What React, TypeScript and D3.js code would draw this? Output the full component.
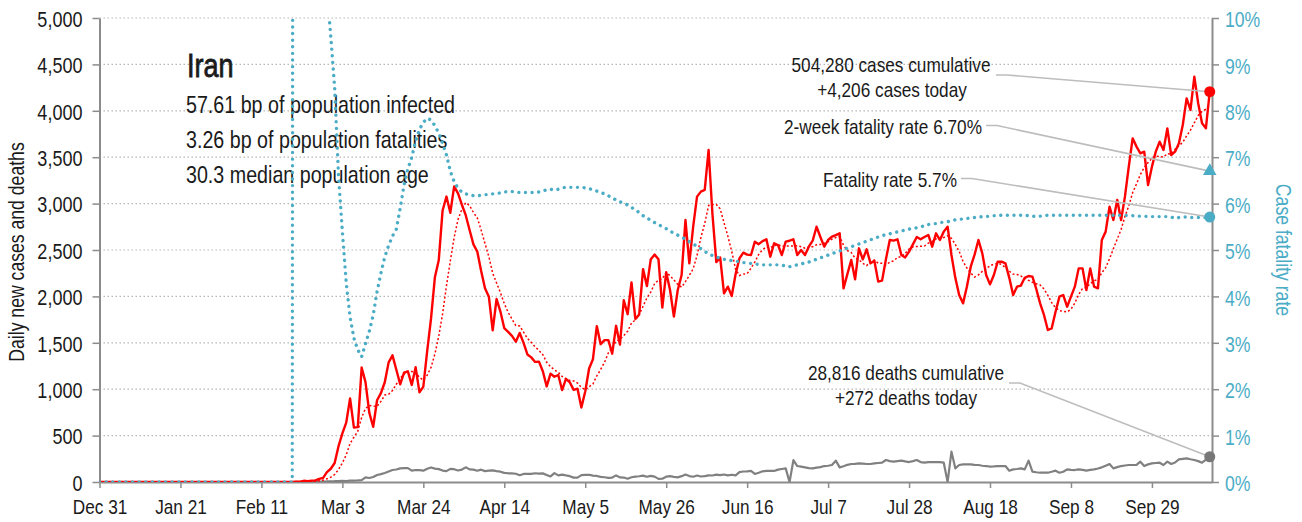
import { useEffect, useRef } from 'react';
import * as d3 from 'd3';

// first day of the series below; before it every series is zero
const seriesStart = '2020-02-19';

// daily new cases, Feb 19 .. Oct 14 (one value per day)
const dailyCases = [
  0, 2, 3, 13, 10, 15, 18, 34, 44, 106, // Feb 19
  143, 205, 385, 523, 640, 900, 586, 591, 1234, 1076, // Feb 29
  743, 595, 881, 958, 1075, 1289, 1365, 1209, 1053, 1178, // Mar 10
  1192, 1046, 1237, 966, 1028, 1411, 1762, 2206, 2389, 2926, // Mar 20
  3076, 2901, 3186, 3110, 2988, 2875, 2715, 2560, 2483, 2274, // Mar 30
  2089, 1997, 1634, 1972, 1837, 1657, 1617, 1574, 1512, 1606, // Apr 9
  1499, 1374, 1343, 1294, 1297, 1194, 1030, 1168, 1134, 1153, // Apr 19
  991, 1112, 1073, 993, 1006, 802, 976, 1223, 1323, 1680, // Apr 29
  1485, 1529, 1529, 1383, 1683, 1481, 1958, 1808, 2150, 1757, // May 9
  1806, 2294, 2111, 2400, 2450, 2400, 1880, 2260, 2069, 1782, // May 19
  2069, 2231, 2823, 2356, 2751, 3075, 3129, 3147, 3578, 2886, // May 29
  2369, 2420, 2033, 2105, 2004, 2238, 2410, 2471, 2450, 2446, // Jun 8
  2590, 2563, 2596, 2615, 2428, 2572, 2554, 2446, 2590, 2600, // Jun 18
  2615, 2446, 2500, 2446, 2536, 2600, 2751, 2640, 2536, 2608, // Jun 28
  2644, 2660, 2680, 2087, 2240, 2392, 2184, 2518, 2399, 2507, // Jul 8
  2356, 2385, 2159, 2170, 2400, 2608, 2601, 2615, 2446, 2420, // Jul 18
  2482, 2560, 2640, 2615, 2640, 2662, 2536, 2680, 2608, 2698, // Jul 28
  2751, 2446, 2200, 2015, 1925, 2105, 2320, 2450, 2608, 2464, // Aug 7
  2231, 2130, 2231, 2374, 2374, 2356, 2200, 2015, 2105, 2116, // Aug 17
  2200, 2220, 2213, 2080, 1925, 1800, 1638, 1656, 1835, 1997, // Aug 27
  2015, 1889, 1997, 2105, 2302, 2302, 2069, 2302, 2105, 2087, // Sep 6
  2608, 2698, 2967, 2823, 3039, 2823, 3075, 3400, 3703, 3614, // Sep 16
  3542, 3560, 3200, 3398, 3560, 3667, 3578, 3811, 3524, 3560, // Sep 26
  3650, 3847, 4134, 4009, 4368, 4081, 3865, 3811, 4206, // Oct 6
];

// daily deaths, same days
const dailyDeaths = [
  0, 2, 0, 2, 1, 3, 4, 4, 3, 7,
  8, 9, 11, 12, 11, 15, 15, 17, 21, 49,
  43, 54, 75, 85, 97, 113, 129, 135, 147, 149,
  149, 123, 129, 127, 122, 143, 157, 144, 139, 123,
  117, 141, 138, 124, 134, 158, 136, 133, 121, 133,
  117, 122, 125, 117, 111, 98, 94, 92, 89, 73,
  87, 88, 88, 94, 90, 93, 76, 60, 96, 71,
  80, 71, 63, 47, 47, 74, 76, 78, 68, 65,
  55, 51, 45, 48, 71, 50, 48, 35, 51, 58,
  62, 69, 56, 66, 58, 34, 35, 57, 63, 56,
  50, 63, 81, 64, 57, 70, 59, 63, 72, 70,
  80, 75, 81, 71, 78, 71, 107, 113, 115, 120,
  87, 100, 115, 119, 121, 119, 133, 140, 147, 0,
  235, 172, 165, 158, 150, 147, 155, 160, 172, 175,
  183, 230, 158, 170, 185, 194, 195, 201, 198, 194,
  194, 200, 205, 208, 237, 225, 219, 225, 230, 222,
  215, 225, 237, 215, 208, 215, 215, 215, 215, 208,
  0, 327, 147, 183, 190, 190, 190, 185, 183, 175,
  172, 165, 168, 172, 172, 172, 122, 136, 140, 147,
  136, 230, 111, 105, 100, 100, 100, 110, 122, 100,
  110, 136, 130, 129, 136, 130, 122, 130, 136, 145,
  158, 175, 194, 147, 160, 172, 178, 183, 183, 185,
  219, 172, 190, 201, 205, 208, 183, 219, 194, 210,
  244, 250, 255, 245, 237, 225, 208, 240, 272,
];

// case fatality rate in percent, same days
const fatalityRate = [
  0, 100, 40, 22.2, 17.9, 18.6, 19.7, 16.8, 13.7, 10.6,
  9.6, 8.5, 6.6, 5.4, 4.3, 3.55, 3.1, 2.85, 2.7, 2.98,
  3.25, 3.6, 4.1, 4.5, 4.85, 5.1, 5.3, 5.45, 5.9, 6.4,
  6.75, 7.0, 7.35, 7.6, 7.75, 7.84, 7.8, 7.68, 7.52, 7.3,
  7.05, 6.7, 6.47, 6.33, 6.25, 6.21, 6.19, 6.17, 6.17, 6.18,
  6.19, 6.2, 6.21, 6.22, 6.23, 6.25, 6.26, 6.26, 6.25, 6.24,
  6.24, 6.24, 6.24, 6.24, 6.25, 6.27, 6.3, 6.31, 6.29, 6.31,
  6.34, 6.35, 6.35, 6.35, 6.35, 6.35, 6.34, 6.32, 6.3, 6.27,
  6.24, 6.21, 6.17, 6.12, 6.08, 6.04, 6.01, 5.97, 5.92, 5.86,
  5.81, 5.74, 5.69, 5.64, 5.59, 5.55, 5.5, 5.46, 5.41, 5.36,
  5.32, 5.28, 5.23, 5.18, 5.13, 5.08, 5.03, 4.97, 4.92, 4.88,
  4.85, 4.82, 4.8, 4.79, 4.77, 4.76, 4.75, 4.73, 4.72, 4.71,
  4.7, 4.69, 4.68, 4.68, 4.68, 4.68, 4.68, 4.67, 4.66, 4.64,
  4.66, 4.68, 4.7, 4.72, 4.74, 4.77, 4.8, 4.83, 4.86, 4.89,
  4.92, 4.95, 4.98, 5.01, 5.04, 5.07, 5.1, 5.13, 5.16, 5.19,
  5.22, 5.25, 5.28, 5.31, 5.33, 5.35, 5.37, 5.39, 5.41, 5.43,
  5.45, 5.46, 5.48, 5.5, 5.52, 5.55, 5.56, 5.57, 5.59, 5.6,
  5.61, 5.63, 5.65, 5.66, 5.67, 5.68, 5.69, 5.7, 5.71, 5.72,
  5.72, 5.73, 5.74, 5.74, 5.75, 5.75, 5.75, 5.75, 5.75, 5.75,
  5.75, 5.74, 5.73, 5.72, 5.73, 5.74, 5.75, 5.75, 5.75, 5.75,
  5.75, 5.75, 5.75, 5.75, 5.75, 5.75, 5.75, 5.75, 5.75, 5.75,
  5.75, 5.75, 5.75, 5.75, 5.75, 5.75, 5.75, 5.74, 5.74, 5.73,
  5.73, 5.73, 5.72, 5.72, 5.72, 5.72, 5.72, 5.72, 5.71, 5.68,
  5.7, 5.71, 5.71, 5.7, 5.7, 5.7, 5.7, 5.7, 5.71,
];

const twoWeekRate = 6.7;

const caseTicks = [0, 500, 1000, 1500, 2000, 2500, 3000, 3500, 4000, 4500, 5000];
const rateTicks = [0, 1, 2, 3, 4, 5, 6, 7, 8, 9, 10];
const dateTicks = [
  '2019-12-31', '2020-01-21', '2020-02-11', '2020-03-03', '2020-03-24',
  '2020-04-14', '2020-05-05', '2020-05-26', '2020-06-16', '2020-07-07',
  '2020-07-28', '2020-08-18', '2020-09-08', '2020-09-29',
];

const title = 'Iran';
const facts = [
  '57.61 bp of population infected',
  '3.26 bp of population fatalities',
  '30.3 median population age',
];
const casesNote = ['504,280 cases cumulative', '+4,206 cases today'];
const twoWeekNote = '2-week fatality rate 6.70%';
const rateNote = 'Fatality rate 5.7%';
const deathsNote = ['28,816 deaths cumulative', '+272 deaths today'];

// no narrow face is installed, so a regular sans is squeezed horizontally
const FONT = "'Liberation Sans', Arial, sans-serif";
const NARROW = 0.82;
const RED = '#ff0000';
const TEAL = '#4bacc6';
const GREY = '#808080';
const AXIS = '#8c8c8c';
const INK = '#1a1a1a';

export default function App() {
  const svgRef = useRef<SVGSVGElement>(null);

  useEffect(() => {
    if (!svgRef.current) return;

    const left = 99.5;
    const right = 1212;
    const top = 18;
    const bottom = 482;

    const svg = d3.select(svgRef.current);
    svg.selectAll('*').remove();

    const squeeze = (sel: d3.Selection<any, any, any, any>) =>
      sel.each(function () {
        const t = d3.select(this);
        const x0 = +(t.attr('x') || 0);
        t.attr('x', x0 / NARROW).attr('transform', `scale(${NARROW},1)`);
      });

    const parse = d3.utcParse('%Y-%m-%d');
    const first = parse(seriesStart)!;
    const axisStart = parse(dateTicks[0])!;
    const dates = dailyCases.map((_, i) => d3.utcDay.offset(first, i));
    const last = dates[dates.length - 1];

    const x = d3
      .scaleUtc()
      .domain([axisStart, d3.utcHour.offset(last, 14)])
      .range([left, right]);
    const yCases = d3.scaleLinear().domain([0, 5000]).range([bottom, top]);
    const yRate = d3.scaleLinear().domain([0, 10]).range([bottom, top]);

    // 7-day trailing mean of daily cases
    const rolling = dailyCases.map((_, i) =>
      d3.mean(d3.range(i - 6, i + 1), (j) => (j >= 0 ? dailyCases[j] : 0)) ?? 0
    );

    const withLead = (values: number[]): [Date, number][] => [
      [axisStart, 0],
      ...values.map((v, i) => [dates[i], v] as [Date, number]),
    ];

    svg
      .append('defs')
      .append('clipPath')
      .attr('id', 'plot-area')
      .append('rect')
      .attr('x', left)
      .attr('y', top)
      .attr('width', right - left)
      .attr('height', bottom - top);

    // gridlines
    svg
      .append('g')
      .selectAll('line')
      .data(caseTicks.filter((t) => t > 0))
      .enter()
      .append('line')
      .attr('x1', left)
      .attr('x2', right)
      .attr('y1', (d) => yCases(d))
      .attr('y2', (d) => yCases(d))
      .attr('stroke', '#b5b5b5')
      .attr('stroke-width', 1.2)
      .attr('stroke-dasharray', '1.5 2.5');

    // title block
    svg
      .append('text')
      .attr('x', 187)
      .attr('y', 77)
      .attr('font-family', FONT)
      .attr('font-size', 33)
      .attr('fill', INK)
      .attr('stroke', INK)
      .attr('stroke-width', 0.8)
      .text(title)
      .call(squeeze);

    svg
      .append('g')
      .selectAll('text')
      .data(facts)
      .enter()
      .append('text')
      .attr('x', 186)
      .attr('y', (_, i) => 113 + i * 35)
      .attr('font-family', FONT)
      .attr('font-size', 24)
      .attr('fill', INK)
      .text((d) => d)
      .call(squeeze);

    // axes
    const leftAxis = svg
      .append('g')
      .attr('transform', `translate(${left},0)`)
      .call(
        d3
          .axisLeft(yCases)
          .tickValues(caseTicks)
          .tickFormat(d3.format(','))
          .tickSize(7)
          .tickSizeOuter(0)
          .tickPadding(10)
      );
    leftAxis.attr('font-family', FONT).attr('font-size', 22);
    leftAxis.select('.domain').attr('stroke', AXIS).attr('stroke-width', 2);
    leftAxis.selectAll('.tick line').attr('stroke', AXIS).attr('stroke-width', 1.5);
    leftAxis.selectAll('.tick text').attr('fill', INK).attr('dy', '0.38em').call(squeeze);

    const rightAxis = svg
      .append('g')
      .attr('transform', `translate(${right},0)`)
      .call(
        d3
          .axisRight(yRate)
          .tickValues(rateTicks)
          .tickFormat((d) => `${d}%`)
          .tickSize(7)
          .tickSizeOuter(0)
          .tickPadding(6)
      );
    rightAxis.attr('font-family', FONT).attr('font-size', 21.5);
    rightAxis.select('.domain').attr('stroke', AXIS).attr('stroke-width', 2);
    rightAxis.selectAll('.tick line').attr('stroke', AXIS).attr('stroke-width', 1.5);
    rightAxis.selectAll('.tick text').attr('fill', TEAL).attr('dy', '0.4em').call(squeeze);

    const bottomAxis = svg
      .append('g')
      .attr('transform', `translate(0,${bottom})`)
      .call(
        d3
          .axisBottom(x)
          .tickValues(dateTicks.map((d) => parse(d)!))
          .tickFormat((d) => d3.utcFormat('%b %-d')(d as Date))
          .tickSize(6)
          .tickSizeOuter(0)
          .tickPadding(11)
      );
    bottomAxis.attr('font-family', FONT).attr('font-size', 21);
    bottomAxis.select('.domain').attr('stroke', AXIS).attr('stroke-width', 2);
    bottomAxis.selectAll('.tick line').attr('stroke', AXIS).attr('stroke-width', 1.5);
    bottomAxis.selectAll('.tick text').attr('fill', INK).call(squeeze);

    svg
      .append('text')
      .attr('transform', `translate(24,252) rotate(-90) scale(${NARROW},1)`)
      .attr('text-anchor', 'middle')
      .attr('font-family', FONT)
      .attr('font-size', 21.5)
      .attr('fill', INK)
      .text('Daily new cases and deaths');

    svg
      .append('text')
      .attr('transform', `translate(1276,250) rotate(90) scale(${NARROW},1)`)
      .attr('text-anchor', 'middle')
      .attr('font-family', FONT)
      .attr('font-size', 21.5)
      .attr('fill', TEAL)
      .text('Case fatality rate');

    // series
    const caseLine = d3
      .line<[Date, number]>()
      .x((d) => x(d[0]))
      .y((d) => yCases(d[1]));
    const rateLine = d3
      .line<[Date, number]>()
      .x((d) => x(d[0]))
      .y((d) => yRate(d[1]));

    const plot = svg.append('g').attr('clip-path', 'url(#plot-area)');

    plot
      .append('path')
      .attr('d', caseLine(withLead(dailyDeaths)))
      .attr('fill', 'none')
      .attr('stroke', GREY)
      .attr('stroke-width', 2.2)
      .attr('stroke-linejoin', 'round');

    plot
      .append('path')
      .attr('d', caseLine(withLead(dailyCases)))
      .attr('fill', 'none')
      .attr('stroke', RED)
      .attr('stroke-width', 2.4)
      .attr('stroke-linejoin', 'round');

    plot
      .append('path')
      .attr('d', caseLine(withLead(rolling)))
      .attr('fill', 'none')
      .attr('stroke', RED)
      .attr('stroke-width', 1.5)
      .attr('stroke-dasharray', '2 2.2');

    plot
      .append('path')
      .attr('d', rateLine(withLead(fatalityRate)))
      .attr('fill', 'none')
      .attr('stroke', TEAL)
      .attr('stroke-width', 3.4)
      .attr('stroke-linecap', 'round')
      .attr('stroke-dasharray', '0.01 6.6');

    // annotations
    const noteText = (t: string, cx: number, cy: number) =>
      svg
        .append('text')
        .attr('x', cx)
        .attr('y', cy)
        .attr('text-anchor', 'middle')
        .attr('font-family', FONT)
        .attr('font-size', 21)
        .attr('fill', INK)
        .text(t)
        .call(squeeze);

    noteText(casesNote[0], 891, 72);
    noteText(casesNote[1], 892, 97);
    noteText(twoWeekNote, 883, 134);
    noteText(rateNote, 890, 187);
    noteText(deathsNote[0], 906, 380);
    noteText(deathsNote[1], 906, 405);

    const lastCases = dailyCases[dailyCases.length - 1];
    const lastDeaths = dailyDeaths[dailyDeaths.length - 1];
    const lastRate = fatalityRate[fatalityRate.length - 1];
    const mx = x(last);

    const leaders: [number, number, number][] = [
      [996, 75, yCases(lastCases)],
      [986, 125.5, yRate(twoWeekRate)],
      [961, 178.5, yRate(lastRate)],
      [1009, 383, yCases(lastDeaths)],
    ];
    svg
      .append('g')
      .selectAll('polyline')
      .data(leaders)
      .enter()
      .append('polyline')
      .attr('points', (d) => `${d[0]},${d[1]} ${d[0] + 11},${d[1]} ${mx},${d[2]}`)
      .attr('fill', 'none')
      .attr('stroke', '#bdbdbd')
      .attr('stroke-width', 1.6);

    svg
      .append('circle')
      .attr('cx', mx)
      .attr('cy', yCases(lastCases))
      .attr('r', 5.5)
      .attr('fill', RED);
    svg
      .append('path')
      .attr('d', d3.symbol(d3.symbolTriangle, 80)())
      .attr('transform', `translate(${mx},${yRate(twoWeekRate)})`)
      .attr('fill', TEAL);
    svg
      .append('circle')
      .attr('cx', mx)
      .attr('cy', yRate(lastRate))
      .attr('r', 5.5)
      .attr('fill', TEAL);
    svg
      .append('circle')
      .attr('cx', mx)
      .attr('cy', yCases(lastDeaths))
      .attr('r', 5.5)
      .attr('fill', '#777777');
  }, []);

  return (
    <svg
      ref={svgRef}
      width={1302}
      height={522}
      style={{ position: 'absolute', left: 0, top: 0, background: '#fff' }}
    ></svg>
  );
}
